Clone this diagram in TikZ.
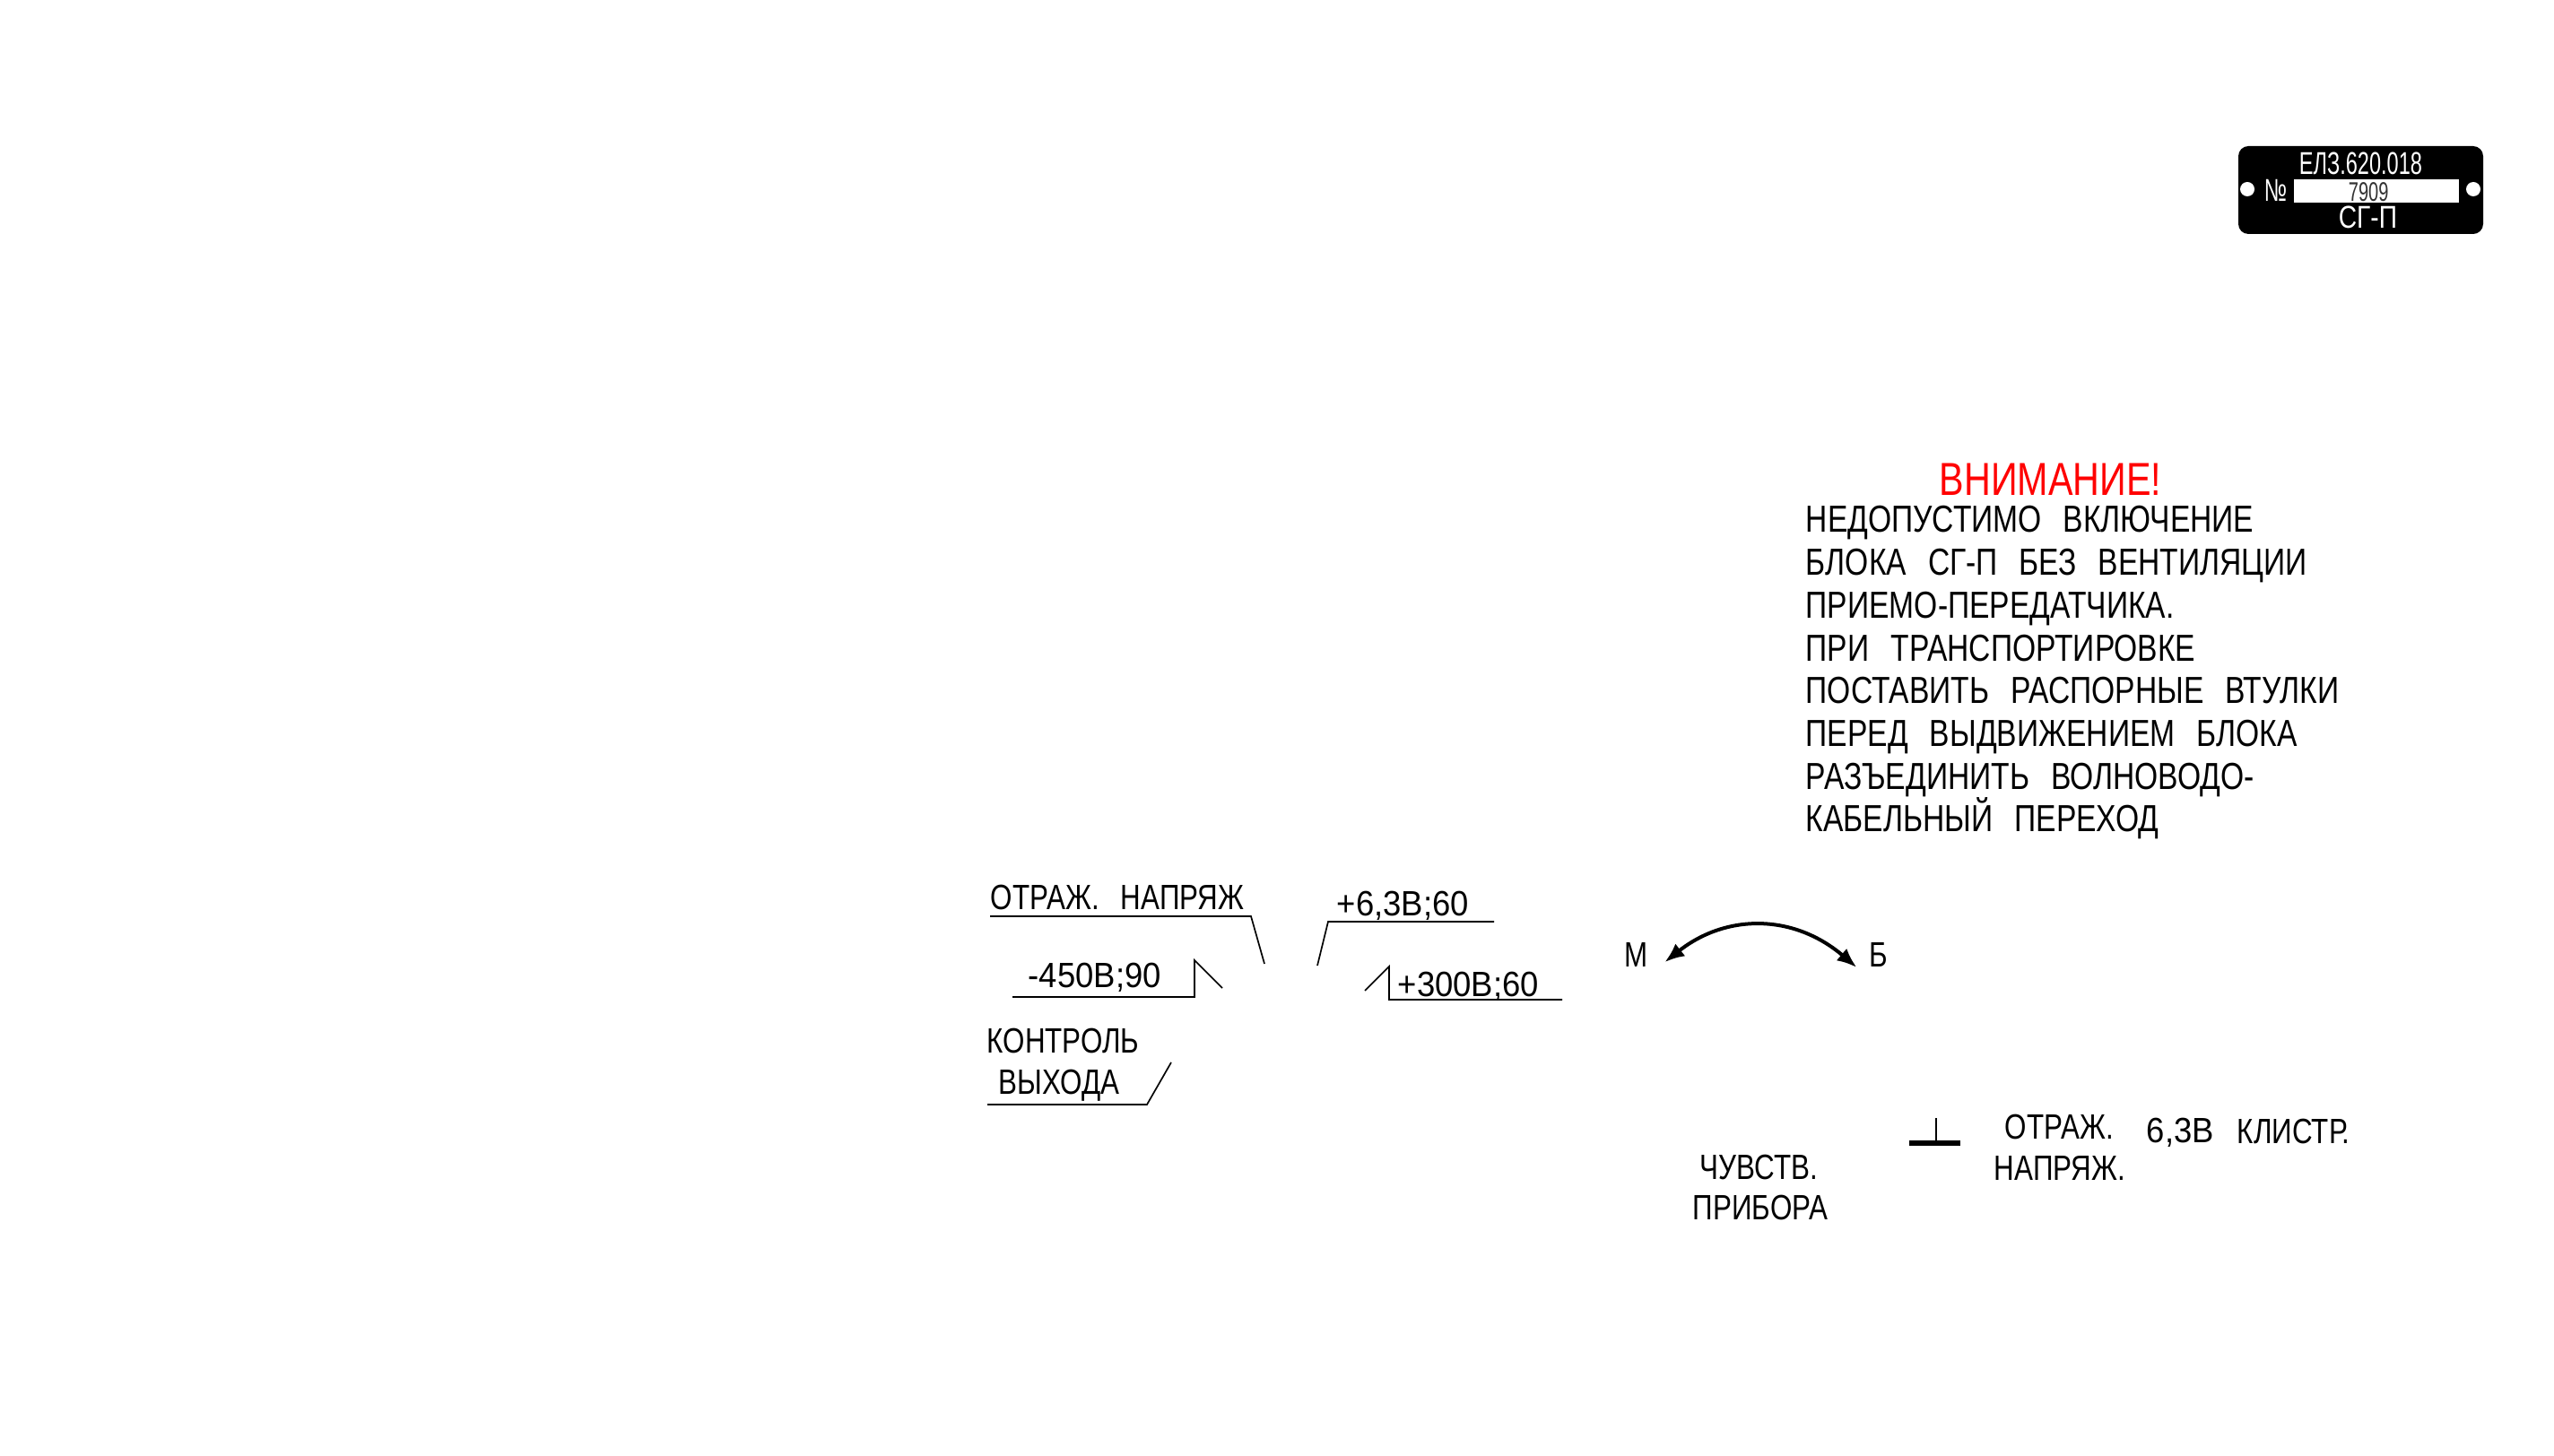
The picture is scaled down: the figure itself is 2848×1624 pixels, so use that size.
\documentclass[tikz,border=0pt]{standalone}
\usepackage{fontspec}
\setmainfont[FakeStretch=0.8]{Liberation Sans}
\newfontfamily\numfont[FakeStretch=0.93]{Liberation Sans}
\newfontfamily\platefont[FakeStretch=0.67]{Liberation Sans}
\usetikzlibrary{arrows.meta}
\newcommand{\sz}[1]{\fontsize{#1}{11.93}\selectfont}
\newcommand{\wsp}{\hspace{6pt}}
\tikzset{
  lbl/.style={anchor=base west,inner sep=0pt,font=\sz{9.8}},
  num/.style={lbl,font=\numfont\sz{9.8}},
  wht/.style={lbl,text=white,font=\platefont\sz{8.8}},
  leader/.style={line width=0.42pt},
  swtip/.tip={Latex[length=5.5pt,width=4.4pt]},
}
\begin{document}
\begin{tikzpicture}[x=0.25pt,y=-0.25pt]
      \useasboundingbox (0,0) rectangle (2848,1624);
      % plate
      \node[fill=black,rounded corners=2.8pt,inner sep=0pt,minimum width=68.25pt,minimum height=24.5pt] (plate) at (2632.5,212) {};
      \node[fill=white,inner sep=0pt,minimum width=46pt,minimum height=6.5pt] (numfield) at (2650,213) {};
      \node[fill=white,circle,inner sep=0pt,minimum size=4pt] (holeL) at (2506,211) {};
      \node[fill=white,circle,inner sep=0pt,minimum size=4pt] (holeR) at (2758,211) {};
      \node[wht] (platecode) at (2563,195) {ЕЛЗ.620.018};
      \node[wht] (platenum) at (2524,225) {№};
      \node[wht,text=black!80,font=\platefont\sz{7.5}] (plateval) at (2618,225) {7909};
      \node[wht,font=\sz{8.8}] (platename) at (2607,255) {СГ-П};
      % warning
      \node[lbl,text=red,font=\sz{12.9}] (warnhead) at (2162,553) {ВНИМАНИЕ!};
      \node[lbl,font=\sz{10.5},align=left] (warntext) at (2013,928) {НЕДОПУСТИМО\wsp ВКЛЮЧЕНИЕ\\БЛОКА\wsp СГ-П\wsp БЕЗ\wsp ВЕНТИЛЯЦИИ\\ПРИЕМО-ПЕРЕДАТЧИКА.\\ПРИ\wsp ТРАНСПОРТИРОВКЕ\\ПОСТАВИТЬ\wsp РАСПОРНЫЕ\wsp ВТУЛКИ\\ПЕРЕД\wsp ВЫДВИЖЕНИЕМ\wsp БЛОКА\\РАЗЪЕДИНИТЬ\wsp ВОЛНОВОДО-\\КАБЕЛЬНЫЙ\wsp ПЕРЕХОД};
      % leaders
      \node[lbl] (refl) at (1104,1015) {ОТРАЖ.\wsp НАПРЯЖ};
      \draw[leader] (1104,1022) -- (1395,1022) -- (1410,1075);
      \node[num] (heat) at (1490,1021) {+6,3В;60};
      \draw[leader] (1666,1028) -- (1481,1028) -- (1469,1077);
      \node[num] (neg) at (1146,1101) {-450В;90};
      \draw[leader] (1129,1112) -- (1332,1112) -- (1332,1071) -- (1363,1102);
      \node[num] (pos) at (1558,1111) {+300В;60};
      \draw[leader] (1742,1115) -- (1549,1115) -- (1549,1078) -- (1522,1105);
      \node[lbl] (ctrl) at (1100,1174) {КОНТРОЛЬ};
      \node[lbl] (outp) at (1113,1220) {ВЫХОДА};
      \draw[leader] (1101,1232) -- (1279,1232) -- (1306,1185);
      % switch
      \node[lbl] (m) at (1811,1078) {М};
      \node[lbl] (b) at (2084,1078) {Б};
      \draw[swtip-swtip,line width=1pt]
       ([xshift=4.4pt,yshift=1.2pt]m.base east) .. controls (1925,1019) and (2000,1019) .. ([xshift=-3.4pt,yshift=-0.25pt]b.base west);
      % ground
      \coordinate (gndtop) at (2159,1247);
      \coordinate (gndmid) at (2159,1275);
      \draw[leader] (gndtop) -- (gndmid);
      \draw[line width=1.4pt] (2129,1275) -- (2186,1275);
      % bottom labels
      \node[lbl] (refa) at (2235,1270) {ОТРАЖ.};
      \node[lbl] (refb) at (2223,1316) {НАПРЯЖ.};
      \node[num] (volt) at (2393,1274) {6,3В};
      \node[lbl] (klys) at (2494,1275) {КЛИСТР.};
      \node[lbl] (sensa) at (1895,1315) {ЧУВСТВ.};
      \node[lbl] (sensb) at (1887,1360) {ПРИБОРА};
\end{tikzpicture}
\end{document}
